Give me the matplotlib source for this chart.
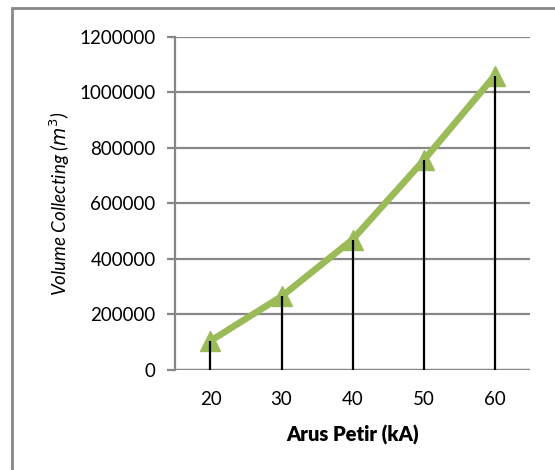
import matplotlib.pyplot as plt
from matplotlib.patches import Rectangle

arus_petir = ["20", "30", "40", "50", "60"]
volume = [105000, 265000, 470000, 755000, 1060000]
y_ticks = [0, 200000, 400000, 600000, 800000, 1000000, 1200000]

plt.rcParams['font.family'] = ['Lato', 'DejaVu Sans']

fig = plt.figure(figsize=(5.55, 4.70), dpi=100)
ax = fig.add_axes([0.3153, 0.2128, 0.6397, 0.7085])

grey = "#878787"
green = "#9BBB59"
x = range(len(arus_petir))

# chart area frame (runs off the right and bottom edges)
fig.patches.append(Rectangle((12 / 555, -0.1), 1.2, 1.1 - 8 / 470,
                             transform=fig.transFigure, fill=False,
                             edgecolor=grey, linewidth=2, zorder=0))

ax.plot(x, volume, color=green, linewidth=4.8, marker="^",
        markersize=14, zorder=3, clip_on=False)
ax.vlines(x, 0, volume, color="black", linewidth=1.6, zorder=4)

ax.set_xlim(-0.5, len(arus_petir) - 0.5)
ax.set_ylim(0, 1200000)
ax.set_xticks(list(x))
ax.set_xticklabels(arus_petir)
ax.set_yticks(y_ticks)
ax.set_yticklabels([str(v) for v in y_ticks])

ax.grid(axis="y", color=grey, linewidth=1.6, zorder=1)
ax.set_axisbelow(True)
for side in ["top", "right", "bottom"]:
    ax.spines[side].set_visible(False)
ax.spines["left"].set_color(grey)
ax.spines["left"].set_linewidth(1.6)
ax.axhline(0, color=grey, linewidth=1.6, zorder=2)

ax.tick_params(axis="y", colors=grey, length=6, width=1.6, labelcolor="black",
               labelsize=13.5, pad=8)
ax.tick_params(axis="x", length=0, labelsize=13.5, pad=15)

ax.set_xlabel("Arus Petir (kA)", fontsize=14.5, fontweight="heavy", labelpad=12)
ax.set_ylabel(r"Volume Collecting ($m^3$)", fontsize=13.5, style="italic",
              labelpad=5)

fig.savefig("out.png", dpi=100)
